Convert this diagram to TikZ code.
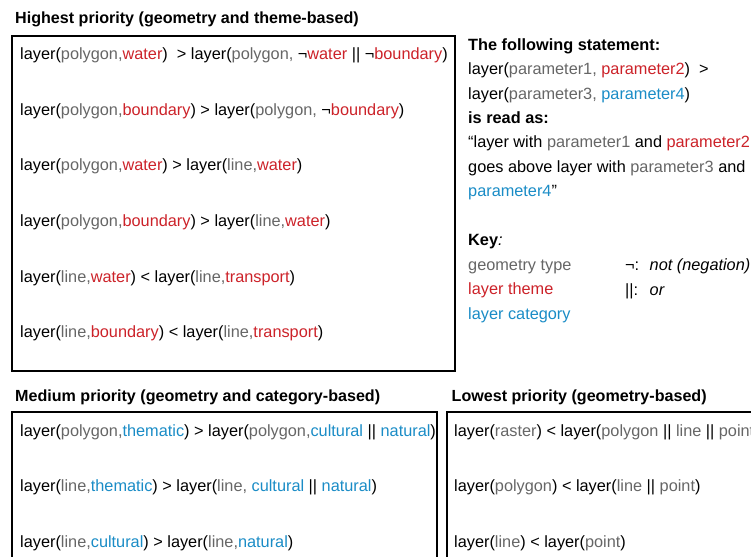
\documentclass[tikz,border=0pt]{standalone}
\usepackage{fontspec}
\setmainfont{Liberation Sans}
\usetikzlibrary{positioning}
\definecolor{geomgray}{HTML}{666666}
\definecolor{themered}{HTML}{CC2229}
\definecolor{catblue}{HTML}{1A8CC6}
\newcommand{\gm}[1]{\textcolor{geomgray}{#1}}
\newcommand{\tm}[1]{\textcolor{themered}{#1}}
\newcommand{\ct}[1]{\textcolor{catblue}{#1}}
\begin{document}
\begin{tikzpicture}[x=1pt,y=1pt,
  txt/.style={anchor=base west,inner sep=0pt,font=\fontsize{16.3}{24.4}\selectfont},
  hdr/.style={txt,font=\fontsize{16.1}{24.4}\selectfont\bfseries},
  panel/.style={txt,align=left},
  nextrow/.style={below=55.5pt of #1.base west,anchor=base west},
  rulebox/.style={draw,line width=2pt}]
\useasboundingbox (0,0) rectangle (751,-556);
\clip (0,0) rectangle (751,-556);

% highest priority
\node[hdr] (hi) at (15,-23.5) {Highest priority (geometry and theme-based)};
\draw[rulebox] (11.5,-36) rectangle (455,-371);
\node[txt] (hi1) at (20,-60) {layer(\gm{polygon,}\tm{water})\ \ > layer(\gm{polygon,} ¬\tm{water} || ¬\tm{boundary})};
\node[txt,nextrow=hi1] (hi2) {layer(\gm{polygon,}\tm{boundary}) > layer(\gm{polygon,} ¬\tm{boundary})};
\node[txt,nextrow=hi2] (hi3) {layer(\gm{polygon,}\tm{water}) > layer(\gm{line,}\tm{water})};
\node[txt,nextrow=hi3] (hi4) {layer(\gm{polygon,}\tm{boundary}) > layer(\gm{line,}\tm{water})};
\node[txt,nextrow=hi4] (hi5) {layer(\gm{line,}\tm{water}) < layer(\gm{line,}\tm{transport})};
\node[txt,nextrow=hi5] (hi6) {layer(\gm{line,}\tm{boundary}) < layer(\gm{line,}\tm{transport})};

% how to read it + key (base = last line)
\node[panel] (stmt) at (468,-196.8) {\textbf{The following statement:}\\
layer(\gm{parameter1,} \tm{parameter2})\ \ >\\
layer(\gm{parameter3,} \ct{parameter4})\\
\textbf{is read as:}\\
“layer with \gm{parameter1} and \tm{parameter2}\\
goes above layer with \gm{parameter3} and\\
\ct{parameter4}”};
\node[panel] (key) at (468,-319) {\textbf{Key}\textit{:}\\
\gm{geometry type}\\
\tm{layer theme}\\
\ct{layer category}};
\node[txt] (notsym) at (625,-270.9) {¬:};
\node[txt] (orsym) at (625,-295.3) {||:};
\node[txt] (notdef) at (649.5,-270.9) {\textit{not (negation)}};
\node[txt] (ordef) at (649.5,-295.3) {\textit{or}};

% medium priority
\node[hdr] (med) at (15,-401) {Medium priority (geometry and category-based)};
\draw[rulebox] (11.5,-411.5) rectangle (436.5,-600);
\node[txt] (med1) at (20,-436) {layer(\gm{polygon,}\ct{thematic}) > layer(\gm{polygon,}\ct{cultural} || \ct{natural})};
\node[txt,nextrow=med1] (med2) {layer(\gm{line,}\ct{thematic}) > layer(\gm{line,} \ct{cultural} || \ct{natural})};
\node[txt,nextrow=med2] (med3) {layer(\gm{line,}\ct{cultural}) > layer(\gm{line,}\ct{natural})};

% lowest priority
\node[hdr] (low) at (451.5,-401) {Lowest priority (geometry-based)};
\draw[rulebox] (446.5,-411.5) rectangle (800,-600);
\node[txt] (low1) at (454,-436) {layer(\gm{raster}) < layer(\gm{polygon} || \gm{line} || \gm{point})};
\node[txt,nextrow=low1] (low2) {layer(\gm{polygon}) < layer(\gm{line} || \gm{point})};
\node[txt,nextrow=low2] (low3) {layer(\gm{line}) < layer(\gm{point})};
\end{tikzpicture}
\end{document}
